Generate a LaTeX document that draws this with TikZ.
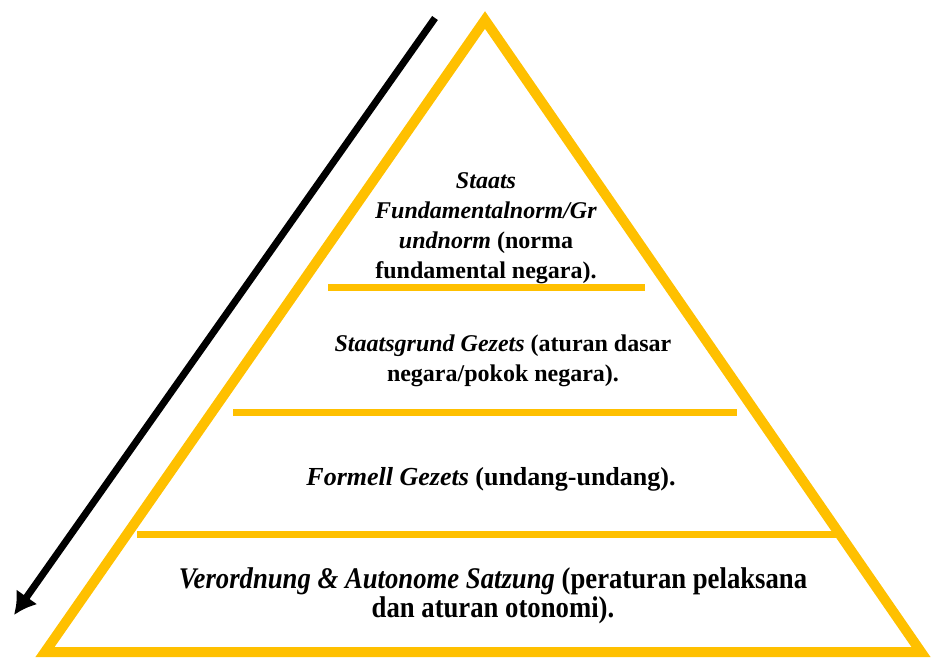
\documentclass[tikz,border=0pt]{standalone}
\usepackage{fontspec}
\setmainfont{Liberation Serif}
\usetikzlibrary{arrows.meta,positioning}
\definecolor{pyramid}{HTML}{FFC000}

\begin{document}
\begin{tikzpicture}[x=1pt,y=-1pt,
level/.style={align=center,font=\fontsize{24}{30}\selectfont\bfseries},
band/.style={draw=pyramid,line width=7pt},
]
\useasboundingbox (0,0) rectangle (932,657);
% pyramid outline
\coordinate (top) at (485,20);
\coordinate (bl) at (45,652);
\coordinate (br) at (921,652);
\draw[pyramid,line width=10pt,miter limit=20] (top) -- (br) -- (bl) -- cycle;
% separators
\coordinate (s1a) at (328,287); \coordinate (s1b) at (645,287);
\coordinate (s2a) at (233,412); \coordinate (s2b) at (737,412);
\coordinate (s3a) at (137,534); \coordinate (s3b) at (838,534);
\path[band] (s1a) edge (s1b) (s2a) edge (s2b) (s3a) edge (s3b);
% texts
\node[level] (grund) at (486,228) {\textit{Staats}\\ \textit{Fundamentalnorm/Gr}\\ \textit{undnorm} (norma\\ fundamental negara).};
\node[level] (staat) at (503,361) {\textit{Staatsgrund Gezets} (aturan dasar\\ negara/pokok negara).};
\node[level,font=\fontsize{26}{30}\selectfont\bfseries] (formell) at (491,479) {\textit{Formell Gezets} (undang-undang).};
\node[level,font=\fontsize{30}{29}\selectfont\bfseries,xscale=0.89] (verord) at (493,596) {\textit{Verordnung \& Autonome Satzung} (peraturan pelaksana\\ dan aturan otonomi).};
% direction
\coordinate (from) at (435,18);
\coordinate (to) at (14,615);
\draw[line width=7pt,-{Latex[length=22pt,width=26pt]}] (from) -- (to);
\end{tikzpicture}
\end{document}
